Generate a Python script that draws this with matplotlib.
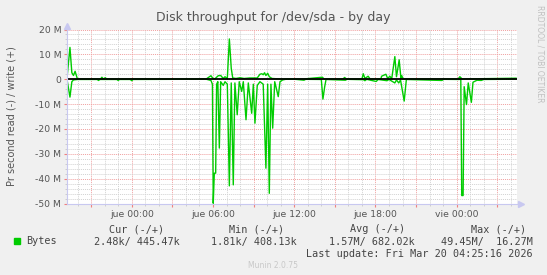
import matplotlib.pyplot as plt
from matplotlib.patches import Rectangle
from matplotlib.ticker import MultipleLocator, FixedLocator

# time in hours relative to "jue 00:00", values in M bytes per second
write_t = [-4.78, -4.56, -4.42, -4.30, -4.18, -4.02, -3.9, -2.3, -2.2, -2.1, -1.95, -1.85,
           5.5, 5.85, 6.0, 6.15, 6.39, 6.57, 6.76, 6.89, 7.06, 7.21, 7.35, 7.46, 7.7, 8.0,
           8.3, 8.7, 9.27, 9.47, 9.61, 9.71, 9.81, 9.91, 10.04, 10.16, 10.36, 10.66, 11.2,
           12.7, 14.08, 14.2, 15.6, 15.72, 15.85, 17.0, 17.1, 17.22, 17.46, 17.6, 18.4,
           18.45, 18.77, 18.9, 19.06, 19.2, 19.43, 19.55, 19.62, 19.75, 19.88, 19.93, 20.05,
           24.1, 24.23, 24.4, 28.38]
write_v = [0.3, 12.8, 2.6, 1.5, 3.2, 0.3, 0.1, 0.1, 0.8, 0.1, 0.6, 0.1,
           0.1, 1.4, 0.3, 0.2, 1.4, 1.5, 0.3, 1.0, 0.2, 16.2, 4.4, 0.5, 0.3, 0.6,
           0.3, 0.5, 0.5, 2.0, 2.2, 1.8, 2.6, 1.5, 2.4, 1.0, 0.3, 0.2, 0.05,
           0.1, 0.8, 0.1, 0.1, 0.7, 0.1, 0.1, 2.2, 0.3, 1.2, 0.1, 0.1,
           1.2, 2.0, 0.3, 1.2, 0.2, 9.1, 1.0, 3.3, 7.8, 0.3, 1.5, 0.1,
           0.1, 1.0, 0.1, 0.4]

read_t = [-4.78, -4.56, -4.42, -4.3, -4.0, -2.55, -2.45, -2.35, -1.1, -1.0, -0.9, -0.1, 0.0, 0.1,
          5.5, 5.85, 5.96, 6.02, 6.10, 6.20, 6.27, 6.36, 6.47, 6.57, 6.76, 6.89, 7.06, 7.21,
          7.35, 7.50, 7.62, 7.79, 7.94, 8.12, 8.24, 8.44, 8.61, 8.86, 8.98, 9.10, 9.27, 9.47,
          9.71, 9.91, 10.04, 10.16, 10.28, 10.41, 10.56, 10.65, 10.82, 10.95, 11.14, 11.4,
          12.1, 12.72, 12.85, 14.0, 14.12, 14.25, 14.35, 15.78, 15.9, 17.12, 17.22, 17.35,
          18.05, 18.2, 18.85, 19.0, 19.43, 19.55, 19.72, 19.85, 20.12, 20.28, 22.9, 23.05,
          24.15, 24.3, 24.37, 24.47, 24.55, 24.72, 24.85, 25.08, 25.2, 25.5, 25.8, 26.0, 28.38]
read_v = [0.0, -7.2, -1.0, -0.3, -0.1, -0.1, -0.5, -0.1, -0.1, -0.5, -0.1, -0.1, -0.6, -0.1,
          0.0, -0.5, -2.0, -49.9, -37.8, -37.8, -2.0, -1.0, -27.7, -1.0, -2.5, -1.0, -2.0, -42.9,
          -1.5, -42.5, -1.5, -14.3, -1.0, -4.9, -1.0, -16.3, -1.5, -13.7, -2.0, -17.7, -2.5, -1.0,
          -2.0, -35.8, -2.0, -45.9, -2.0, -19.7, -1.0, -3.0, -7.0, -1.0, -0.3, 0.0,
          -0.05, -0.4, -0.05, -0.1, -8.0, -3.0, -0.1, -0.4, -0.05, -0.2, -0.6, -0.05,
          -0.9, -0.1, -0.6, -0.1, -1.5, -0.3, -1.5, -0.3, -8.8, -0.1, -0.5, -0.05,
          -0.1, 0.0, -46.8, -46.8, -3.0, -10.2, -1.5, -9.3, -1.2, -0.4, -0.5, -0.1, 0.0]

tick_hours = [0, 6, 12, 18, 24]
tick_labels = ['jue 00:00', 'jue 06:00', 'jue 12:00', 'jue 18:00', 'vie 00:00']
y_ticks = [20, 10, 0, -10, -20, -30, -40, -50]
y_labels = ['20 M', '10 M', '0', '-10 M', '-20 M', '-30 M', '-40 M', '-50 M']

legend_heads = ['Cur (-/+)', 'Min (-/+)', 'Avg (-/+)', 'Max (-/+)']
legend_vals = ['2.48k/ 445.47k', '1.81k/ 408.13k', '1.57M/ 682.02k', '49.45M/  16.27M']

W, H = 547, 275
fig = plt.figure(figsize=(W / 100, H / 100), dpi=100, facecolor='#F0F0F0')
ax = fig.add_axes([66.7 / W, 1 - 203.5 / H, (517 - 66.7) / W, 174 / H])
ax.set_facecolor('white')

ax.set_xlim(-4.8, 28.45)
ax.set_ylim(-50, 20)

# grid: minor grey, major red, both dotted
ax.xaxis.set_minor_locator(MultipleLocator(1))
ax.yaxis.set_minor_locator(MultipleLocator(2))
ax.xaxis.set_major_locator(FixedLocator(list(range(-3, 28, 3))))
ax.grid(True, which='minor', color='#D2D2D2', linestyle=(0, (1, 1)), lw=0.7)
ax.grid(True, which='major', color='#F0A0A0', linestyle=(0, (1, 1)), lw=0.7)
ax.set_axisbelow(True)

ax.set_xticks(list(range(-3, 28, 3)))
ax.set_xticklabels([tick_labels[tick_hours.index(h)] if h in tick_hours else '' for h in range(-3, 28, 3)])
ax.set_yticks(y_ticks)
ax.set_yticklabels(y_labels)
ax.tick_params(which='major', length=2, color='#F08080', labelsize=6.7, labelcolor='#555555', pad=2)
ax.tick_params(which='minor', length=1.5, color='#C8C8C8')
ax.tick_params(axis='x', pad=3)

for s in ['top', 'right']:
    ax.spines[s].set_visible(False)
for s in ['left', 'bottom']:
    ax.spines[s].set_color('#C8C8F0')
    ax.spines[s].set_linewidth(0.8)
ax.plot([-4.8], [21.5], marker='^', color='#C8C8F0', ms=4, clip_on=False)
ax.plot([28.75], [-50], marker='>', color='#C8C8F0', ms=4, clip_on=False)

ax.plot(write_t, write_v, color='#00CC00', lw=1)
ax.plot(read_t, read_v, color='#00CC00', lw=1)
ax.axhline(0, color='black', lw=1.3)

fig.text(273 / W, 1 - 18 / H, 'Disk throughput for /dev/sda - by day', ha='center', va='center',
         fontsize=9, color='#555555')
fig.text(12 / W, 1 - 116 / H, 'Pr second read (-) / write (+)', rotation=90, ha='center', va='center',
         fontsize=7, color='#555555')
fig.text(540 / W, 1 - 5 / H, 'RRDTOOL / TOBI OETIKER', rotation=270, ha='center', va='top',
         fontsize=5.5, color='#C0C0C0')

mono = dict(family='DejaVu Sans Mono', fontsize=7.3, color='#444444', va='center')
head_right = [164, 284, 405, 526]
val_right = [179.6, 297, 415, 533]
for txt, xr in zip(legend_heads, head_right):
    fig.text(xr / W, 1 - 229 / H, txt, ha='right', **mono)
for txt, xr in zip(legend_vals, val_right):
    fig.text(xr / W, 1 - 241.5 / H, txt, ha='right', **mono)
fig.patches.append(Rectangle((14 / W, 1 - 243.5 / H), 5.5 / W, 5.5 / H, transform=fig.transFigure,
                             color='#00CC00'))
fig.text(26 / W, 1 - 241.5 / H, 'Bytes', ha='left', **mono)
fig.text(533 / W, 1 - 254 / H, 'Last update: Fri Mar 20 04:25:16 2026', ha='right', **mono)
fig.text(273 / W, 1 - 266 / H, 'Munin 2.0.75', ha='center', va='center', fontsize=5.5, color='#C8C8C8')

fig.savefig('out.png', dpi=100, facecolor=fig.get_facecolor())
